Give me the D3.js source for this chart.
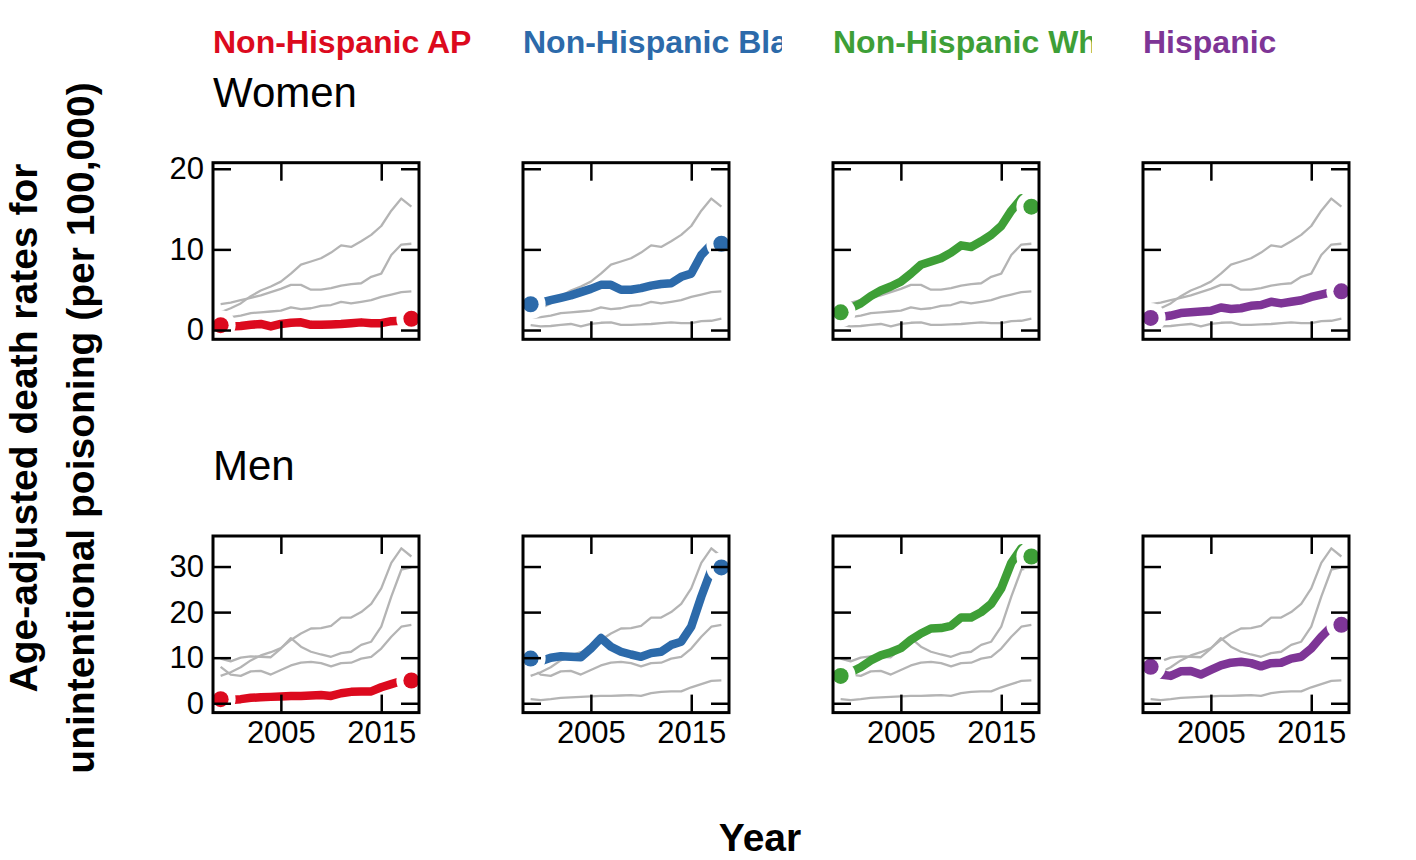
<!DOCTYPE html>
<html>
<head>
<meta charset="utf-8">
<script src="https://cdn.jsdelivr.net/npm/d3@7"></script>
<style>
  html, body { margin: 0; padding: 0; background: #fff; }
  svg { display: block; font-family: "Liberation Sans", Arial, Helvetica, sans-serif; }
</style>
</head>
<body>
<svg id="chart" width="1416" height="860"></svg>
<script>
// ---------------- data ----------------
const years = [1999, 2000, 2001, 2002, 2003, 2004, 2005, 2006, 2007, 2008,
               2009, 2010, 2011, 2012, 2013, 2014, 2015, 2016, 2017, 2018];
const groups = ["Non-Hispanic API", "Non-Hispanic Black", "Non-Hispanic White", "Hispanic"];
const groupColors = ["#dc0a1e", "#2c6aaa", "#3e9f37", "#7e3596"];
const sexes = ["Women", "Men"];

const womenAPI      = [0.6, 0.45, 0.5, 0.65, 0.75, 0.45, 0.75, 0.9, 0.95, 0.65, 0.65, 0.7, 0.75, 0.85, 0.95, 0.85, 0.85, 1.1, 1.15, 1.4];
const womenBlack    = [3.2, 3.4, 3.7, 4.0, 4.3, 4.7, 5.1, 5.6, 5.6, 5.0, 5.0, 5.2, 5.5, 5.7, 5.8, 6.6, 7.0, 9.3, 10.6, 10.7];
const womenWhite    = [2.2, 2.7, 3.3, 4.2, 4.9, 5.4, 6.0, 7.0, 8.1, 8.5, 8.9, 9.6, 10.5, 10.3, 11.0, 11.8, 12.9, 14.8, 16.3, 15.3];
const womenHispanic = [1.5, 1.6, 1.8, 2.1, 2.2, 2.3, 2.4, 2.8, 2.6, 2.7, 3.0, 3.1, 3.5, 3.3, 3.5, 3.7, 4.1, 4.4, 4.7, 4.8];

const menAPI        = [0.9, 0.7, 0.9, 1.2, 1.3, 1.4, 1.5, 1.6, 1.6, 1.7, 1.8, 1.6, 2.2, 2.5, 2.6, 2.6, 3.5, 4.2, 4.9, 5.0];
const menBlack      = [9.8, 9.2, 10.0, 10.3, 10.2, 10.1, 12.0, 14.3, 12.4, 11.3, 10.7, 10.2, 11.0, 11.3, 12.8, 13.5, 16.8, 23.4, 29.3, 29.8];
const menWhite      = [6.0, 6.8, 7.9, 9.4, 10.5, 11.2, 12.1, 13.9, 15.3, 16.4, 16.5, 17.0, 18.8, 18.8, 20.0, 21.8, 25.2, 30.8, 34.0, 32.2];
const menHispanic   = [8.0, 6.3, 6.0, 7.0, 7.1, 6.3, 7.3, 8.3, 8.9, 9.1, 8.8, 8.1, 8.8, 8.9, 9.8, 10.2, 12.0, 14.6, 16.8, 17.2];

const xTicks = [2005, 2015];
const womenYTicks = [0, 10, 20];
const menYTicks = [0, 10, 20, 30];
const yTitleLines = ["Age-adjusted death rates for", "unintentional poisoning (per 100,000)"];
const xTitle = "Year";

// ---------------- layout ----------------
const colLeft = [213, 523, 833, 1143];
const panelW = 206, panelH = 176.6;
const rowTop = [162.7, 536];
const yDomains = [[-1.15, 20.75], [-2.05, 36.7]];
const rows = [
  { sex: sexes[0], series: [womenAPI, womenBlack, womenWhite, womenHispanic], ticks: womenYTicks },
  { sex: sexes[1], series: [menAPI, menBlack, menWhite, menHispanic], ticks: menYTicks }
];

const svg = d3.select("#chart");
svg.append("rect").attr("width", 1416).attr("height", 860).attr("fill", "#fff");

const x = d3.scaleLinear().domain([1998.24, 2018.76]).range([0, panelW]);

// header strips (clipped)
const defs = svg.append("defs");
groups.forEach((g, j) => {
  defs.append("clipPath").attr("id", "hclip" + j)
    .append("rect").attr("x", colLeft[j]).attr("y", 0).attr("width", 259).attr("height", 80);
  svg.append("text")
    .attr("x", colLeft[j]).attr("y", 53)
    .attr("clip-path", `url(#hclip${j})`)
    .attr("fill", groupColors[j])
    .attr("font-weight", "bold")
    .attr("font-size", 32)
    .text(g);
});

rows.forEach((row, i) => {
  const y = d3.scaleLinear().domain(yDomains[i]).range([panelH, 0]);
  // row label
  svg.append("text")
    .attr("x", colLeft[0]).attr("y", rowTop[i] - 56)
    .attr("font-size", 42)
    .attr("fill", "#000")
    .text(row.sex);

  const line = d3.line().x((d, k) => x(years[k])).y(d => y(d));

  groups.forEach((g, j) => {
    const p = svg.append("g").attr("transform", `translate(${colLeft[j]},${rowTop[i]})`);

    // other groups in gray
    row.series.forEach((s, k) => {
      if (k === j) return;
      p.append("path").attr("d", line(s))
        .attr("fill", "none").attr("stroke", "#b4b4b4").attr("stroke-width", 2.3)
        .attr("stroke-linejoin", "round");
    });
    // highlighted group
    const s = row.series[j];
    p.append("path").attr("d", line(s))
      .attr("fill", "none").attr("stroke", groupColors[j]).attr("stroke-width", 8.5)
      .attr("stroke-linejoin", "round");

    const ends = [0, years.length - 1];
    p.selectAll("circle.halo").data(ends).join("circle").attr("class", "halo")
      .attr("cx", k => x(years[k])).attr("cy", k => y(s[k])).attr("r", 15).attr("fill", "#fff");
    p.selectAll("circle.dot").data(ends).join("circle").attr("class", "dot")
      .attr("cx", k => x(years[k])).attr("cy", k => y(s[k])).attr("r", 8).attr("fill", groupColors[j]);

    // axes with inward ticks on all sides
    const styleAxis = (ax) => {
      ax.select(".domain").remove();
      ax.selectAll(".tick line").attr("stroke", "#000").attr("stroke-width", 2.5);
      ax.selectAll(".tick text").attr("fill", "#000").attr("font-size", 31)
        .attr("font-family", "Liberation Sans, Arial, Helvetica, sans-serif");
    };
    const left = p.append("g").call(
      d3.axisLeft(y).tickValues(row.ticks).tickSize(-18).tickPadding(9)
        .tickFormat(j === 0 ? d3.format("d") : () => ""));
    styleAxis(left);
    const right = p.append("g").attr("transform", `translate(${panelW},0)`).call(
      d3.axisRight(y).tickValues(row.ticks).tickSize(-18).tickFormat(() => ""));
    styleAxis(right);
    const top = p.append("g").call(
      d3.axisTop(x).tickValues(xTicks).tickSize(-18).tickFormat(() => ""));
    styleAxis(top);
    const bottom = p.append("g").attr("transform", `translate(0,${panelH})`).call(
      d3.axisBottom(x).tickValues(xTicks).tickSize(-18).tickPadding(8)
        .tickFormat(i === 1 ? d3.format("d") : () => ""));
    styleAxis(bottom);

    // panel border
    p.append("rect").attr("x", 0).attr("y", 0).attr("width", panelW).attr("height", panelH)
      .attr("fill", "none").attr("stroke", "#000").attr("stroke-width", 3);
  });
});

// axis titles
const yt = svg.append("text")
  .attr("transform", "translate(0,428) rotate(-90)")
  .attr("text-anchor", "middle")
  .attr("font-weight", "bold")
  .attr("font-size", 39)
  .attr("fill", "#000");
yt.append("tspan").attr("x", 0).attr("y", 37).text(yTitleLines[0]);
yt.append("tspan").attr("x", 0).attr("y", 94).text(yTitleLines[1]);

svg.append("text")
  .attr("x", 760).attr("y", 851)
  .attr("text-anchor", "middle")
  .attr("font-weight", "bold")
  .attr("font-size", 39)
  .attr("fill", "#000")
  .text(xTitle);
</script>
</body>
</html>
